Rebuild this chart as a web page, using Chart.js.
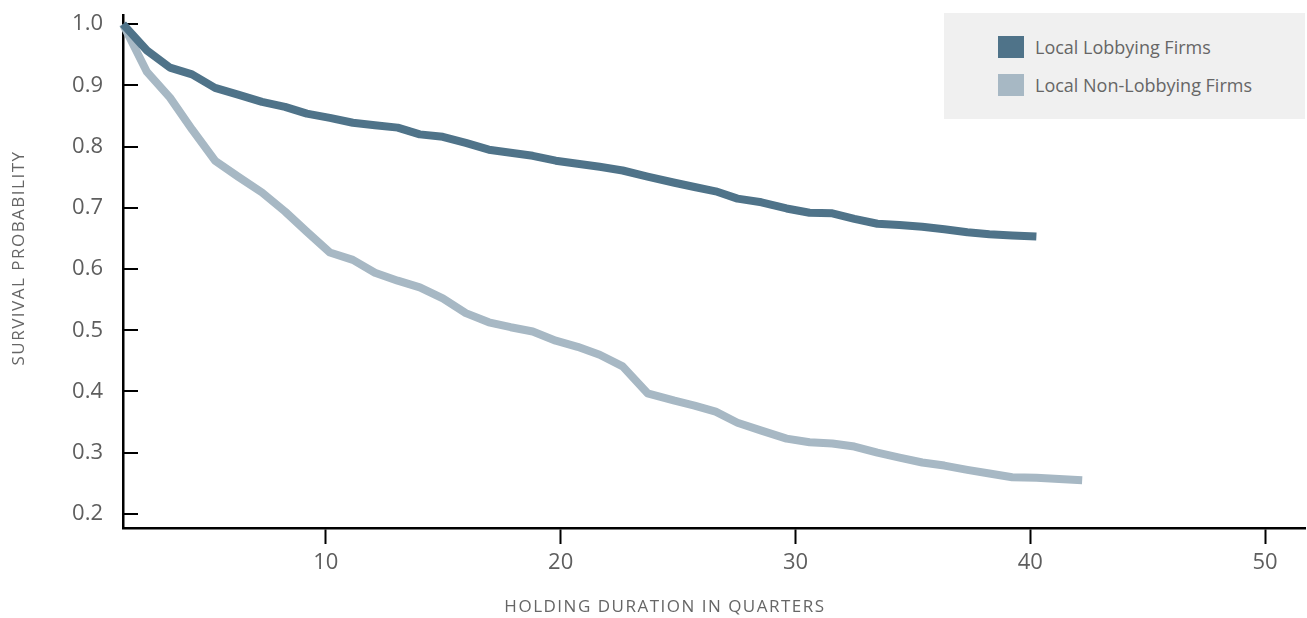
<!DOCTYPE html>
<html>
<head>
<meta charset="utf-8">
<script src="https://cdn.jsdelivr.net/npm/chart.js@4"></script>
<style>
  body { margin: 0; background: #fff; font-family: "Open Sans", sans-serif; }
  #wrap { position: relative; width: 1307px; height: 618px; }
  #legend { position: absolute; left: 944px; top: 13px; width: 361px; height: 106px; background: #f0f0f0; }
  .item { position: absolute; left: 54px; display: flex; align-items: center; font-size: 18px; color: #666; }
  .sw { width: 26px; height: 22px; margin-right: 11px; }
</style>
</head>
<body>
<div id="wrap">
  <canvas id="kmChart"></canvas>
  <div id="legend"></div>
</div>
<script>
// Courbes de survie (Kaplan-Meier)
const quarters = [1.36, 2.38, 3.36, 4.30, 5.28, 6.26, 7.28, 8.26, 9.19, 10.17, 11.15, 12.09, 13.06, 14.00, 14.98,
  15.96, 16.94, 17.87, 18.81, 19.79, 20.72, 21.66, 22.64, 23.70, 24.85, 25.70, 26.60, 27.53, 28.55, 29.62,
  30.60, 31.57, 32.51, 33.49, 34.43, 35.40, 36.34, 37.32, 38.26, 39.23, 40.26, 41.23, 42.21];
const lobbying = [1.000, 0.957, 0.929, 0.918, 0.896, 0.885, 0.873, 0.865, 0.854, 0.847, 0.839, 0.835, 0.831, 0.820,
  0.816, 0.806, 0.795, 0.790, 0.785, 0.777, 0.772, 0.767, 0.761, 0.751, 0.741, 0.734, 0.727, 0.715, 0.709,
  0.699, 0.692, 0.691, 0.682, 0.674, 0.672, 0.669, 0.665, 0.660, 0.657, 0.655, 0.653];
const nonLobbying = [1.000, 0.922, 0.880, 0.828, 0.777, 0.751, 0.725, 0.694, 0.661, 0.627, 0.615, 0.594, 0.581,
  0.570, 0.552, 0.528, 0.513, 0.505, 0.498, 0.483, 0.473, 0.460, 0.441, 0.397, 0.385, 0.377, 0.367, 0.349,
  0.336, 0.323, 0.317, 0.315, 0.310, 0.300, 0.292, 0.284, 0.279, 0.272, 0.266, 0.260, 0.259, 0.257, 0.255];
const xTicks = [10, 20, 30, 40, 50];
const yTicks = [0.2, 0.3, 0.4, 0.5, 0.6, 0.7, 0.8, 0.9, 1.0];

const toPoints = vals => vals.map((v, i) => ({ x: quarters[i], y: v }));

// ticks de l'axe Y vers l'intérieur + titres des axes
const extras = {
  id: 'extras',
  beforeDatasetsDraw(chart) {
    const ctx = chart.ctx, y = chart.scales.y;
    ctx.save();
    ctx.strokeStyle = '#000';
    ctx.lineWidth = 2;
    yTicks.forEach(v => {
      const p = Math.round(y.getPixelForValue(v));
      ctx.beginPath();
      ctx.moveTo(y.right, p);
      ctx.lineTo(y.right + 15, p);
      ctx.stroke();
    });
    ctx.restore();
  },
  afterDraw(chart) {
    const ctx = chart.ctx;
    ctx.save();
    ctx.fillStyle = '#666';
    ctx.font = '17px "Open Sans"';
    ctx.letterSpacing = '1.5px';
    ctx.textAlign = 'center';
    ctx.textBaseline = 'middle';
    ctx.fillText('HOLDING DURATION IN QUARTERS', 665, 607);
    ctx.translate(19, 258);
    ctx.rotate(-Math.PI / 2);
    ctx.fillText('SURVIVAL PROBABILITY', 0, 0);
    ctx.restore();
  }
};

const chart = new Chart(document.getElementById('kmChart'), {
  type: 'line',
  data: {
    datasets: [{
      label: 'Local Lobbying Firms',
      data: toPoints(lobbying),
      borderColor: '#4f7389',
      backgroundColor: '#4f7389',
      borderWidth: 8,
      pointRadius: 0,
      borderJoinStyle: 'round',
      clip: false
    }, {
      label: 'Local Non-Lobbying Firms',
      data: toPoints(nonLobbying),
      borderColor: '#a7b8c4',
      backgroundColor: '#a7b8c4',
      borderWidth: 8,
      pointRadius: 0,
      borderJoinStyle: 'round',
      clip: false
    }]
  },
  options: {
    responsive: true,
    maintainAspectRatio: false,
    animation: false,
    layout: { padding: { top: 15, right: 2, left: 0, bottom: 0 } },
    plugins: { legend: { display: false }, tooltip: { enabled: false } },
    scales: {
      x: {
        type: 'linear',
        min: 1.36,
        max: 51.7,
        afterBuildTicks: s => { s.ticks = xTicks.map(v => ({ value: v })); },
        afterFit: s => { s.height = 90; s.paddingLeft = 0; s.paddingRight = 0; },
        grid: { display: true, drawOnChartArea: false, drawTicks: true, tickLength: 16, tickColor: '#000', tickWidth: 2 },
        border: { display: true, color: '#000', width: 2.5 },
        ticks: { color: '#5e5e5e', font: { family: 'Open Sans', size: 22 }, padding: 6, maxRotation: 0 }
      },
      y: {
        min: 0.177,
        max: 1.015,
        afterBuildTicks: s => { s.ticks = yTicks.map(v => ({ value: v })); },
        afterFit: s => { s.width = 123; s.paddingTop = 0; s.paddingBottom = 0; },
        grid: { display: false, drawTicks: false },
        border: { display: true, color: '#000', width: 2.5 },
        ticks: { color: '#5e5e5e', font: { family: 'Open Sans', size: 22 }, padding: 20, callback: v => v.toFixed(1) }
      }
    }
  },
  plugins: [extras]
});

// légende HTML posée sur le graphique
const legend = document.getElementById('legend');
chart.data.datasets.forEach((ds, i) => {
  const item = document.createElement('div');
  item.className = 'item';
  item.style.top = (24 + i * 38 - 2) + 'px';
  item.innerHTML = '<span class="sw" style="background:' + ds.borderColor + '"></span>' + ds.label;
  legend.appendChild(item);
});
</script>
</body>
</html>
